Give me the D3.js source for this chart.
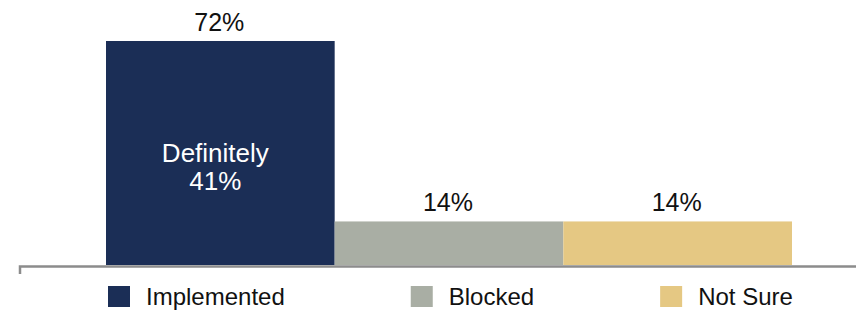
<!DOCTYPE html>
<html>
<head>
<meta charset="utf-8">
<script src="https://cdn.jsdelivr.net/npm/d3@7"></script>
<style>
  html, body { margin: 0; padding: 0; background: #fff; }
  svg { display: block; font-family: "Liberation Sans", Arial, sans-serif; }
</style>
</head>
<body>
<svg id="chart" width="856" height="310"></svg>
<script>
const categories = ["Implemented", "Blocked", "Not Sure"];
const values = [72, 14, 14];
const valueLabels = ["72%", "14%", "14%"];
const innerLabelLines = ["Definitely", "41%"];
const colors = ["#1b2e56", "#a9aea4", "#e5c883"];

const svg = d3.select("#chart");

const x = d3.scaleBand().domain(categories).range([106, 792]).padding(0);
const y = d3.scaleLinear().domain([0, 72]).range([265, 41]);

// bars
svg.append("g").selectAll("rect")
  .data(categories)
  .join("rect")
  .attr("x", d => x(d))
  .attr("y", (d, i) => y(values[i]))
  .attr("width", x.bandwidth())
  .attr("height", (d, i) => y(0) - y(values[i]))
  .attr("fill", (d, i) => colors[i]);

// value labels on top
svg.append("g").selectAll("text")
  .data(categories)
  .join("text")
  .attr("x", d => x(d) + x.bandwidth() / 2 - 1)
  .attr("y", (d, i) => y(values[i]) - 10.5)
  .attr("text-anchor", "middle")
  .attr("font-size", 25)
  .attr("fill", "#111")
  .text((d, i) => valueLabels[i]);

// inner label in first bar
const midY = (y(values[0]) + y(0)) / 2;
const innerX = x(categories[0]) + x.bandwidth() / 2 - 5;
const inner = svg.append("text")
  .attr("x", innerX)
  .attr("y", midY + 8.7)
  .attr("text-anchor", "middle")
  .attr("font-size", 26)
  .attr("fill", "#fff");
innerLabelLines.forEach((t, i) => {
  inner.append("tspan")
    .attr("x", innerX)
    .attr("dy", i === 0 ? 0 : 28.5)
    .text(t);
});

// axis baseline
const axisScale = d3.scaleLinear().domain([0, 1]).range([19.5, 870]);
const axis = svg.append("g")
  .attr("transform", `translate(0,${y(0) + 1})`)
  .call(d3.axisBottom(axisScale).tickValues([]).tickSizeOuter(8));
axis.select(".domain").attr("stroke", "#8c8c8c").attr("stroke-width", 2.5).attr("fill", "none");

// legend
const legend = svg.append("g");
let lx = 108;
categories.forEach((c, i) => {
  legend.append("rect")
    .attr("x", lx).attr("y", 286)
    .attr("width", 22).attr("height", 21)
    .attr("fill", colors[i]);
  const t = legend.append("text")
    .attr("x", lx + 38).attr("y", 305)
    .attr("font-size", 24)
    .attr("fill", "#111")
    .text(c);
  lx = lx + 38 + t.node().getComputedTextLength() + 126;
});
</script>
</body>
</html>
